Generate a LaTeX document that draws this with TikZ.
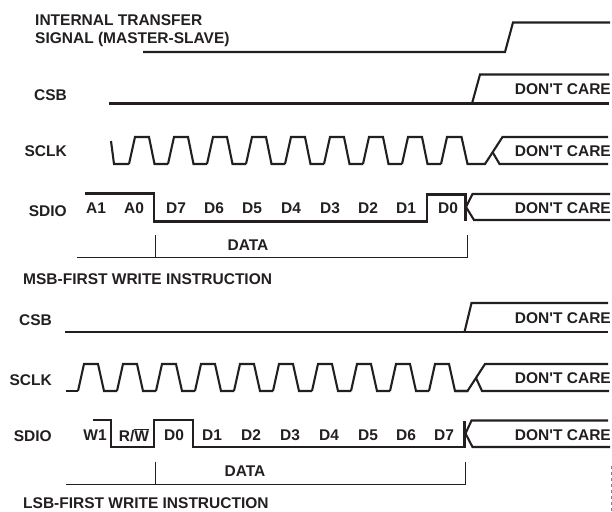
\documentclass[tikz,border=0pt]{standalone}
\usepackage{fontspec}
\setmainfont[Ligatures=TeXOff]{Liberation Sans}
\usetikzlibrary{positioning}
\definecolor{inkdark}{HTML}{231F20}

\begin{document}
\begin{tikzpicture}[
    x=1pt, y=-1pt,
    every node/.style={font=\fontsize{15.5}{17}\selectfont\bfseries, text=inkdark, inner sep=0pt},
    signal/.style={draw=inkdark, line width=2.1pt, line join=miter},
    marker/.style={draw=inkdark, line width=1pt},
    sig/.style={anchor=east},
    title/.style={anchor=west},
    bit/.style={anchor=center},
    dc/.style={anchor=east}
]
    \useasboundingbox (0,0) rectangle (612,511);

    % upper instruction
    \node[title] (transfer1) at (35,20) {INTERNAL TRANSFER};
    \node[title] (transfer2) at (35,39) {SIGNAL (MASTER-SLAVE)};
    \node[sig] (csbA) at (67,95) {CSB};
    \node[sig] (sclkA) at (67,151) {SCLK};
    \node[sig] (sdioA) at (67,211) {SDIO};
    \node[dc] (careA) at (611,89) {DON'T CARE};
    \node[dc] (careB) at (611,151) {DON'T CARE};
    \node[dc] (careC) at (611,208) {DON'T CARE};
    \node (dataA) at (248,245) {DATA};
    \node[title] (msb) at (23,279) {MSB-FIRST WRITE INSTRUCTION};

    \foreach \name/\xpos in {A1/96,A0/134,D7/176,D6/214,D5/252,D4/291,D3/330,D2/368,D1/406,D0/448}
        \node[bit] (top\name) at (\xpos,208) {\name};

    \draw[signal] (143,52) -- (505,52) -- (513,22.5) -- (610,22.5);
    \draw[signal] (109,103.5) -- (609,103.5);
    \draw[signal] (472,103.5) -- (480,74.5) -- (609,74.5);

    \draw[signal] (111,141) -- (114,164) -- (129,164);
    \foreach \k in {0,...,7}
        \draw[signal] ({129+39*\k},164) -- ({135+39*\k},137) -- ({149+39*\k},137)
            -- ({154.5+39*\k},164) -- ({168+39*\k},164);
    \draw[signal] (441,164) -- (447,137) -- (461.5,137) -- (467.5,164) -- (485,164)
        -- (502.5,137) -- (608,137);
    \draw[signal] (492.5,152) -- (499.5,164) -- (608,164);

    \draw[signal] (85,193.5) -- (154,193.5) -- (154,221.5) -- (427,221.5)
        -- (427,194.5) -- (465.5,194.5) -- (465.5,220.5);
    \draw[signal] (610,194) -- (472.5,194) -- (466,207) -- (474,220) -- (610,220);

    \draw[marker] (155,235) -- (155,257.5);
    \draw[marker] (77,257.5) -- (467.5,257.5) -- (467.5,235);

    % lower instruction
    \node[sig] (csbB) at (52,320) {CSB};
    \node[sig] (sclkB) at (52,380) {SCLK};
    \node[sig] (sdioB) at (52,436) {SDIO};
    \node[dc] (careD) at (611,318) {DON'T CARE};
    \node[dc] (careE) at (611,378) {DON'T CARE};
    \node[dc] (careF) at (611,435) {DON'T CARE};
    \node (dataB) at (245,471) {DATA};
    \node[title] (lsb) at (23,503) {LSB-FIRST WRITE INSTRUCTION};

    \foreach \name/\xpos in {W1/95,D0/174,D1/212,D2/251,D3/290,D4/329,D5/368,D6/406,D7/444}
        \node[bit] (low\name) at (\xpos,435) {\name};
    \node[bit] (lowRW) at (134,435) {R/$\overline{\mbox{W}}$};

    \draw[signal] (65,332) -- (608,332);
    \draw[signal] (464.5,332) -- (471.5,303) -- (608,303);

    \draw[signal] (66,391) -- (78,391);
    \foreach \k in {0,...,9}
        \draw[signal] ({78+39*\k},391) -- ({84+39*\k},364) -- ({98+39*\k},364)
            -- ({104+39*\k},391) -- ({117+39*\k},391);
    \draw[signal] (455,391) -- (467.5,391) -- (485,364) -- (608,364);
    \draw[signal] (476,378) -- (482,391) -- (609,391);

    \draw[signal] (93,420) -- (111,420) -- (111,447) -- (154,447) -- (154,420)
        -- (193,420) -- (193,447) -- (464.5,447) -- (464.5,420.5);
    \draw[signal] (608,420.5) -- (471.5,420.5) -- (465.5,433.5) -- (472.5,447) -- (610,447);

    \draw[marker] (155,461.5) -- (155,484);
    \draw[marker] (66,484) -- (465,484) -- (465,461.5);

    \draw[gray, line width=0.5pt, dashed] (611,466) -- (611,511);
\end{tikzpicture}
\end{document}
